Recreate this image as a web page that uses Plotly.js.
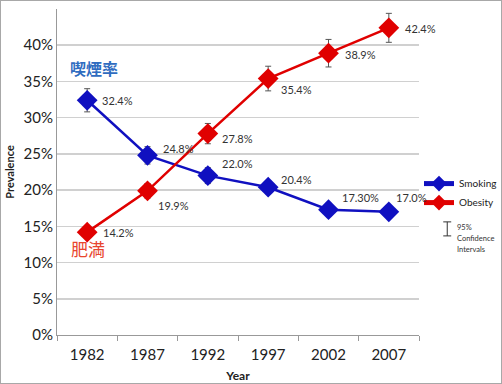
<!DOCTYPE html>
<html><head><meta charset="utf-8">
<script src="https://cdn.plot.ly/plotly-3.0.1.min.js"></script>
<style>
html,body{margin:0;padding:0;background:#fff;}
#chart{width:502px;height:384px;box-sizing:border-box;border:1px solid #a8a8a8;}
</style></head>
<body><div id="chart"></div>
<script>
// ---- data ----
const years = ['1982','1987','1992','1997','2002','2007'];
const smoking = [32.4, 24.8, 22.0, 20.4, 17.3, 17.0];
const smokingErr = [1.6, 1.2, 1.1, 0.9, 0.7, 0.6];
const smokingLabels = ['32.4%','24.8%','22.0%','20.4%','17.30%','17.0%'];
const obesity = [14.2, 19.9, 27.8, 35.4, 38.9, 42.4];
const obesityErr = [0.6, 1.0, 1.4, 1.7, 1.9, 2.0];
const obesityLabels = ['14.2%','19.9%','27.8%','35.4%','38.9%','42.4%'];
const yTicks = [0,5,10,15,20,25,30,35,40,45];

// ---- style (label offsets in px) ----
const smkShift = [[13,0],[13,7],[12,12],[11,8],[11,12],[5,14]];
const obsShift = [[14,0],[8,-15],[12,-5],[11,-11],[14,-1],[14,-1]];

const blue = '#1010C0', red = '#E00000';
const font = 'Lato, "Open Sans", sans-serif';
const idx = years.map((_,i)=>i);
const bounds = years.map((_,i)=>i-0.5).concat([years.length-0.5]);

function tr(name, y, err, color){
  return {
    type:'scatter', mode:'lines+markers', name:name, x:idx, y:y,
    line:{color:color,width:2.5},
    marker:{symbol:'diamond',size:16,color:color},
    error_y:{type:'data',array:err,visible:true,color:'#555',thickness:1,width:3}
  };
}
const traces = [tr('Smoking', smoking, smokingErr, blue), tr('Obesity', obesity, obesityErr, red)];

const annotations = [];
function addLabels(vals, labels, shifts){
  vals.forEach((v,i)=>annotations.push({
    x:idx[i], y:v, xref:'x', yref:'y', text:labels[i], showarrow:false,
    xanchor:'left', yanchor:'middle', xshift:shifts[i][0], yshift:shifts[i][1],
    font:{family:font,size:11,color:'#333'}
  }));
}
addLabels(smoking, smokingLabels, smkShift);
addLabels(obesity, obesityLabels, obsShift);

annotations.push({xref:'paper',yref:'paper',x:0.101,y:0.819,xanchor:'center',yanchor:'middle',text:'<b>喫煙率</b>',showarrow:false,
  font:{family:'"Noto Sans CJK JP"',size:16,color:'#2F6CC0'}});
annotations.push({xref:'paper',yref:'paper',x:0.085,y:0.264,xanchor:'center',yanchor:'middle',text:'肥満',showarrow:false,
  font:{family:'"Noto Sans CJK JP"',size:17,color:'#E8452E'}});
const ciText = ['95%','Confidence','Intervals'];
ciText.forEach((t,i)=>annotations.push({xref:'paper',yref:'paper',x:1.099,y:0.33-i*0.034,text:t,
  showarrow:false,xanchor:'left',yanchor:'middle',font:{family:font,size:7.5,color:'#333'}}));

const shapes = [
  {type:'line',xref:'paper',yref:'paper',x0:1.078,x1:1.078,y0:0.304,y1:0.347,line:{color:'#333',width:1}},
  {type:'line',xref:'paper',yref:'paper',x0:1.067,x1:1.089,y0:0.347,y1:0.347,line:{color:'#333',width:1}},
  {type:'line',xref:'paper',yref:'paper',x0:1.067,x1:1.089,y0:0.304,y1:0.304,line:{color:'#333',width:1}}
];

const layout = {
  width:500, height:382,
  margin:{l:56,r:78,t:8,b:48},
  paper_bgcolor:'#fff', plot_bgcolor:'#fff',
  font:{family:font,color:'#222'},
  showlegend:true,
  legend:{xref:'container',yref:'container',x:0.836,y:0.56,xanchor:'left',yanchor:'top',
    font:{family:font,size:10,color:'#222'},
    bgcolor:'rgba(0,0,0,0)',itemwidth:30,itemsizing:'constant',tracegroupgap:0},
  xaxis:{type:'linear',range:[-0.5,years.length-0.5],tickmode:'array',tickvals:idx,ticktext:years,ticks:'',
    showline:true,linecolor:'#999',linewidth:1,showgrid:false,zeroline:false,ticklabelstandoff:6,
    tickfont:{family:font,size:15,color:'#222'},
    title:{text:'<b>Year</b>',font:{family:font,size:12,color:'#222'},standoff:10}},
  xaxis2:{type:'linear',overlaying:'x',matches:'x',anchor:'y',side:'bottom',tickmode:'array',tickvals:bounds,
    ticks:'outside',ticklen:5,tickcolor:'#999',showticklabels:false,showgrid:false,zeroline:false,showline:false},
  yaxis:{type:'linear',range:[0,45],tickmode:'array',tickvals:yTicks,ticktext:yTicks.map(v=>v+'%'),
    showgrid:true,gridcolor:'#d0d0d0',gridwidth:1.5,
    showline:true,linecolor:'#999',linewidth:1,zeroline:false,ticks:'',
    tickfont:{family:font,size:15,color:'#222'},
    title:{text:'<b>Prevalence</b>',font:{family:font,size:11,color:'#222'},standoff:6}},
  annotations:annotations, shapes:shapes
};
traces.push({type:'scatter',x:[],y:[],xaxis:'x2',yaxis:'y',showlegend:false,hoverinfo:'skip'});
Plotly.newPlot('chart', traces, layout, {displayModeBar:false, staticPlot:true});
</script></body></html>
